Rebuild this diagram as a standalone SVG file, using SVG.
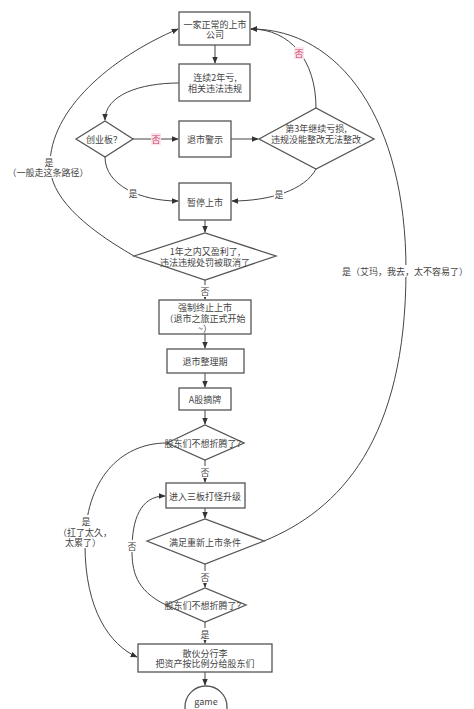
<svg xmlns="http://www.w3.org/2000/svg" width="474" height="709" viewBox="0 0 474 709">
<defs>
<marker id="arr" viewBox="0 0 10 10" refX="9" refY="5" markerWidth="7" markerHeight="7" markerUnits="userSpaceOnUse" orient="auto">
<path d="M0,1 L10,5 L0,9 Z" fill="#333"/>
</marker>
<style>
.box{fill:#fff;stroke:#555;stroke-width:1.3}
.t{font-family:"Noto Sans CJK SC","Liberation Sans",sans-serif;font-size:9px;fill:#444;text-anchor:middle;dominant-baseline:central}
.c{fill:none;stroke:#444;stroke-width:1;marker-end:url(#arr)}
.red{fill:#d0406a}
.bg{fill:#fff}
.pk{fill:#fbe3ea}
</style>
</defs>
<rect width="474" height="709" fill="#fff"/>
<g id="connectors">
<path class="c" d="M215,45 L215,63"/>
<path class="c" d="M179,83 C140,83 105,95 105,120"/>
<path class="c" d="M133,139 L178,139"/>
<path class="c" d="M231,139 L258,139"/>
<path class="c" d="M316,108 C316,60 290,29 251,29"/>
<path class="c" d="M316,169 C305,190 270,201 232,201"/>
<path class="c" d="M105,157 C105,185 140,201 178,201"/>
<path class="c" d="M205,220 L205,232"/>
<path class="c" d="M134,256 C80,225 50,195 50,165 C50,110 110,58 178,29"/>
<path class="c" d="M205,280 L205,299"/>
<path class="c" d="M205,334 L205,348"/>
<path class="c" d="M205,373 L205,387"/>
<path class="c" d="M205,410 L205,424"/>
<path class="c" d="M205,460 L205,482"/>
<path class="c" d="M205,508 L205,518"/>
<path class="c" d="M264,541 C340,510 406,440 406,270 C406,120 340,29 251,29"/>
<path class="c" d="M205,564 L205,587"/>
<path class="c" d="M205,622 L205,643"/>
<path class="c" d="M205,672 L205,685"/>
<path class="c" d="M167,443 C120,443 85,480 85,545 C85,610 110,645 137,657"/>
<path class="c" d="M166,605 C135,590 132,570 132,550 C132,520 140,496 165,496"/>
</g>
<g id="labels">
<rect class="pk" x="151" y="133" width="10" height="12"/>
<text class="t red" x="156" y="139">否</text>
<rect class="pk" x="294" y="47" width="10" height="12"/>
<text class="t red" x="299" y="53">否</text>
<rect class="bg" x="128" y="187" width="10" height="12"/>
<text class="t" x="133" y="193">是</text>
<rect class="bg" x="274" y="188" width="10" height="12"/>
<text class="t" x="279" y="194">是</text>
<rect class="bg" x="12" y="156" width="74" height="22"/>
<text class="t" y="162"><tspan x="49">是</tspan><tspan x="48" dy="10">（一般走这条路径）</tspan></text>
<rect class="bg" x="200" y="285" width="10" height="12"/>
<text class="t" x="205" y="291">否</text>
<rect class="bg" x="346" y="265" width="118" height="12"/>
<text class="t" x="405" y="271">是（艾玛，我去，太不容易了）</text>
<rect class="bg" x="200" y="466" width="10" height="12"/>
<text class="t" x="205" y="472">否</text>
<rect class="bg" x="63" y="515" width="45" height="33"/>
<text class="t" y="521"><tspan x="86">是</tspan><tspan x="85" dy="11">（扛了太久，</tspan><tspan x="83" dy="10">太累了）</tspan></text>
<rect class="bg" x="127" y="540" width="10" height="12"/>
<text class="t" x="132" y="546">否</text>
<rect class="bg" x="200" y="571" width="10" height="12"/>
<text class="t" x="205" y="577">否</text>
<rect class="bg" x="200" y="628" width="10" height="12"/>
<text class="t" x="205" y="634">是</text>
</g>
<g id="n1"><rect class="box" x="179" y="12" width="71" height="33"/>
<text class="t" y="24"><tspan x="215">一家正常的上市</tspan><tspan x="215" dy="10">公司</tspan></text></g>
<g id="n2"><rect class="box" x="179" y="64" width="71" height="37"/>
<text class="t" y="77"><tspan x="215">连续2年亏,</tspan><tspan x="215" dy="11">相关违法违规</tspan></text></g>
<g id="n3"><polygon class="box" points="76,139 105,121 133,139 105,157"/>
<text class="t" x="104" y="139">创业板？</text></g>
<g id="n4"><rect class="box" x="179" y="121" width="52" height="36"/>
<text class="t" x="205" y="139">退市警示</text></g>
<g id="n5"><polygon class="box" points="259,139 316,108 374,139 316,169"/>
<text class="t" y="128"><tspan x="316">第3年继续亏损,</tspan><tspan x="316" dy="11">违规没能整改无法整改</tspan></text></g>
<g id="n6"><rect class="box" x="179" y="183" width="52" height="37"/>
<text class="t" x="205" y="202">暂停上市</text></g>
<g id="n7"><polygon class="box" points="134,256 205,233 276,256 205,280"/>
<text class="t" y="251"><tspan x="205">1年之内又盈利了,</tspan><tspan x="205" dy="11">违法违规处罚被取消了</tspan></text></g>
<g id="n8"><rect class="box" x="159" y="300" width="92" height="34"/>
<text class="t" y="307"><tspan x="205">强制终止上市</tspan><tspan x="205" dy="10.5">（退市之旅正式开始</tspan><tspan x="205" dy="10.5">~）</tspan></text></g>
<g id="n9"><rect class="box" x="167" y="349" width="77" height="24"/>
<text class="t" x="205" y="361">退市整理期</text></g>
<g id="n10"><rect class="box" x="179" y="388" width="52" height="22"/>
<text class="t" x="205" y="399">A股摘牌</text></g>
<g id="n11"><polygon class="box" points="167,443 205,425 244,443 205,460"/>
<text class="t" x="205" y="443">股东们不想折腾了？</text></g>
<g id="n12"><rect class="box" x="166" y="483" width="79" height="25"/>
<text class="t" x="205" y="496">进入三板打怪升级</text></g>
<g id="n13"><polygon class="box" points="147,541 205,519 264,541 205,564"/>
<text class="t" x="205" y="542">满足重新上市条件</text></g>
<g id="n14"><polygon class="box" points="166,605 205,588 246,605 205,622"/>
<text class="t" x="205" y="605">股东们不想折腾了？</text></g>
<g id="n15"><rect class="box" x="138" y="644" width="134" height="28"/>
<text class="t" y="653"><tspan x="205">散伙分行李</tspan><tspan x="205" dy="10">把资产按比例分给股东们</tspan></text></g>
<g id="n16"><circle class="box" cx="206" cy="707" r="21"/>
<text class="t" y="701"><tspan x="206">game</tspan><tspan x="206" dy="13">over</tspan></text></g>
</svg>
